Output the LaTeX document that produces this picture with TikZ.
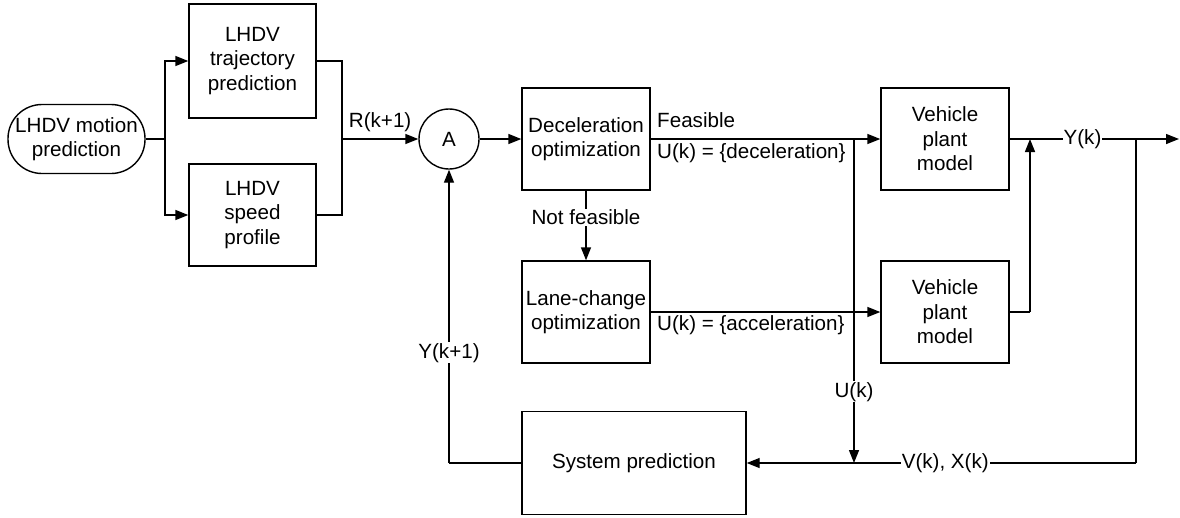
\documentclass[tikz,border=0pt]{standalone}
\usepackage{fontspec}
\setmainfont{Liberation Sans}
\usetikzlibrary{arrows.meta,calc}
\begin{document}
\begin{tikzpicture}[x=1pt,y=-1pt,
  every node/.style={font=\fontsize{20.6}{24.5}\selectfont},
  blk/.style={draw,line width=1.4pt,align=center,inner sep=0pt},
  pill/.style={draw,line width=1.4pt,align=center,inner sep=0pt,rounded corners=34pt},
  sum/.style={draw,circle,line width=1.4pt,inner sep=0pt,minimum size=60pt},
  conn/.style={line width=1.4pt},
  arr/.style={line width=1.4pt,-{Triangle[length=13pt,width=10pt]}},
  lab/.style={fill=white,inner sep=1pt}]
\useasboundingbox (0,0) rectangle (1180,517);

\node[pill,minimum width=137pt,minimum height=69pt] (motion) at (76.5,139) {LHDV motion\\prediction};
\node[blk,minimum width=127pt,minimum height=114pt] (traj) at (252.5,61) {LHDV\\trajectory\\prediction};
\node[blk,minimum width=127pt,minimum height=102pt] (speed) at (252.5,215) {LHDV\\speed\\profile};
\node[sum] (A) at (449,139) {A};
\node[blk,minimum width=128pt,minimum height=102pt] (decel) at (586,139) {Deceleration\\optimization};
\node[blk,minimum width=128pt,minimum height=102pt] (lane) at (586,312) {Lane-change\\optimization};
\node[blk,minimum width=128pt,minimum height=102pt] (plant1) at (945,139) {Vehicle\\plant\\model};
\node[blk,minimum width=128pt,minimum height=102pt] (plant2) at (945,312) {Vehicle\\plant\\model};
\node[blk,minimum width=224pt,minimum height=103pt] (sys) at (634,463) {System prediction};

\coordinate (split) at (165,139);
\coordinate (merge) at (342,139);
\coordinate (j1) at (854,139);
\coordinate (j2) at (1030,139);
\coordinate (j3) at (1136,139);
\coordinate (out) at (1179,139);
\coordinate (fb) at (A |- sys);
\coordinate (ub) at (j1 |- sys);
\coordinate (vb) at (j3 |- sys);
\coordinate (p2r) at (j2 |- plant2);

% left part
\draw[conn] (motion.east) -- (split);
\draw[arr] (split) |- (traj.west);
\draw[arr] (split) |- (speed.west);
\draw[conn] (traj.east) -| (merge);
\draw[conn] (speed.east) -| (merge);
\draw[arr] (merge) -- node[above=3pt]{R(k+1)} (A.west);
\draw[arr] (A.east) -- (decel.west);

% decel / lane change
\draw[arr] (decel.east) -- (plant1.west);
\node[anchor=west] (feas) at ([xshift=3pt,yshift=19pt]decel.east) {Feasible};
\node[anchor=west] (udec) at ([xshift=3pt,yshift=-14pt]decel.east) {U(k) = \{deceleration\}};
\draw[arr] (decel.south) -- node[lab,pos=0.38]{Not feasible} (lane.north);
\draw[arr] (lane.east) -- (plant2.west);
\node[anchor=west] (uacc) at ([xshift=3pt,yshift=-13pt]lane.east) {U(k) = \{acceleration\}};

% outputs
\draw[conn] (plant2.east) -- (p2r);
\draw[arr] (p2r) -- (j2);
\draw[arr] (plant1.east) -- node[lab,pos=0.43,inner sep=0.5pt]{Y(k)} (out);
\draw[conn] (j3) -- (vb);
\draw[arr] (vb) -- node[lab,pos=0.49]{V(k), X(k)} (sys.east);
\draw[arr] (j1) -- node[lab,pos=0.78]{U(k)} (ub);

% feedback
\draw[conn] (sys.west) -- (fb);
\draw[arr] (fb) -- node[lab,pos=0.376]{Y(k+1)} (A.south);
\end{tikzpicture}
\end{document}
